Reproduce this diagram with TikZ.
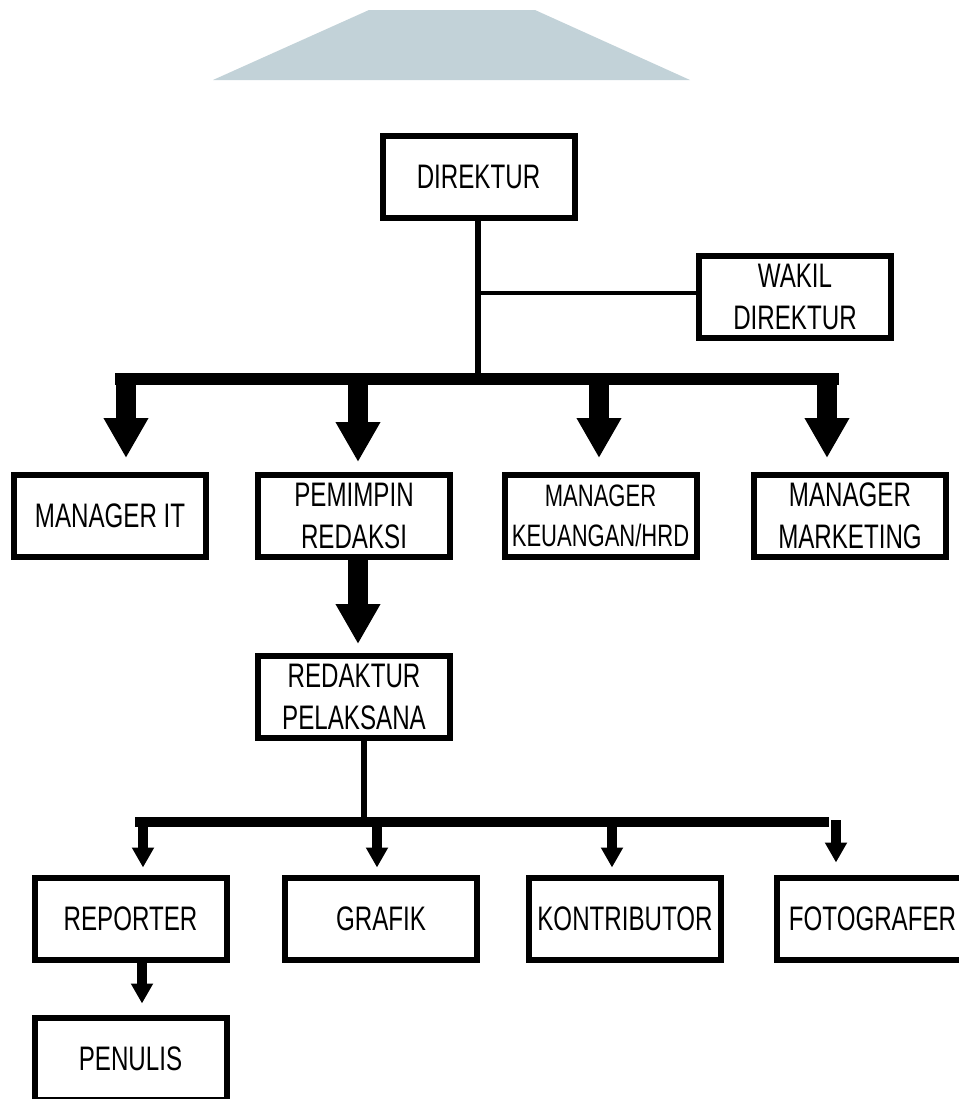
\documentclass[tikz,border=0pt]{standalone}
\usepackage{fontspec}
\setmainfont{Liberation Sans}[FakeStretch=0.71]
\usetikzlibrary{arrows.meta, positioning}
\definecolor{wmgrey}{RGB}{194,210,216}
\tikzstyle{posbox} = [draw, line width=3pt, minimum width=96pt, minimum height=41pt, inner sep=0pt, align=center, font=\fontsize{17}{21}\selectfont]
\tikzstyle{bigarrow} = [line width=10pt, -{Triangle[width=21pt,length=20pt]}, shorten >=7pt]
\tikzstyle{smallarrow} = [line width=5pt, -{Triangle[width=10.5pt,length=10pt]}, shorten >=3.5pt]
\tikzstyle{bar} = [line width=6pt]
\tikzstyle{line} = [line width=2.7pt]
\tikzstyle{thinline} = [line width=2pt]

\begin{document}
\begin{tikzpicture}[x=0.5pt, y=-0.5pt]
    \useasboundingbox (0,0) rectangle (959,1099);
    \clip (0,0) rectangle (959,1099);
    \fill[white] (0,0) rectangle (959,1099);
    \fill[wmgrey] (369,10) -- (535,10) -- (690,80) -- (213,80) -- cycle;

    \node[posbox] (direktur) at (478.5,176.5) {DIREKTUR};
    \node[posbox] (wakil) at (795,296.5) {WAKIL\\DIREKTUR};

    \node[posbox] (mgrit) at (110,516) {MANAGER IT};
    \node[posbox] (pemimpin) at (354,516) {PEMIMPIN\\REDAKSI};
    \node[posbox, font=\fontsize{15.5}{20}\selectfont] (keuangan) at (600.5,516) {MANAGER\\KEUANGAN/HRD};
    \node[posbox] (marketing) at (850,516) {MANAGER\\MARKETING};
    \node[posbox, below=46.5pt of pemimpin] (redaktur) {REDAKTUR\\PELAKSANA};

    \node[posbox] (reporter) at (130.5,918.5) {REPORTER};
    \node[posbox] (grafik) at (381,918.5) {GRAFIK};
    \node[posbox] (kontributor) at (625,918.5) {KONTRIBUTOR};
    \node[posbox] (fotografer) at (872.5,918.5) {FOTOGRAFER};
    \node[posbox, below=26pt of reporter] (penulis) {PENULIS};

    \coordinate (hub) at (478,379);
    \coordinate (wk) at (478,293);
    \coordinate (barL) at (115,379);
    \coordinate (barR) at (839,379);
    \draw[line] (direktur.south -| hub) -- (hub);
    \draw[thinline] (wk) -- (wk -| wakil.west);
    \draw[bar] (barL) -- (barR);

    \coordinate (dmgrit) at (126,379);
    \coordinate (dpemimpin) at (358,379);
    \coordinate (dkeuangan) at (599,379);
    \coordinate (dmarketing) at (827,379);
    \draw[bigarrow] (dmgrit) -- (dmgrit |- mgrit.north);
    \draw[bigarrow, shorten >=5pt] (dpemimpin) -- (dpemimpin |- pemimpin.north);
    \draw[bigarrow] (dkeuangan) -- (dkeuangan |- keuangan.north);
    \draw[bigarrow] (dmarketing) -- (dmarketing |- marketing.north);

    \coordinate (dred) at (358,0);
    \draw[bigarrow, shorten >=4.5pt] (pemimpin.south -| dred) -- (redaktur.north -| dred);

    \coordinate (hub2) at (364,822);
    \coordinate (bar2L) at (135,822);
    \coordinate (bar2R) at (829,822);
    \draw[line] (redaktur.south -| hub2) -- (hub2);
    \draw[bar, line width=5pt] (bar2L) -- (bar2R);

    \coordinate (dreporter) at (143,822);
    \coordinate (dgrafik) at (377,822);
    \coordinate (dkontributor) at (612,822);
    \coordinate (dfotografer) at (836,820);
    \draw[smallarrow] (dreporter) -- (dreporter |- reporter.north);
    \draw[smallarrow] (dgrafik) -- (dgrafik |- grafik.north);
    \draw[smallarrow] (dkontributor) -- (dkontributor |- kontributor.north);
    \draw[smallarrow, shorten >=6pt] (dfotografer) -- (dfotografer |- fotografer.north);

    \coordinate (dpenulis) at (142,0);
    \draw[smallarrow, shorten >=5.5pt] (reporter.south -| dpenulis) -- (penulis.north -| dpenulis);
\end{tikzpicture}
\end{document}
